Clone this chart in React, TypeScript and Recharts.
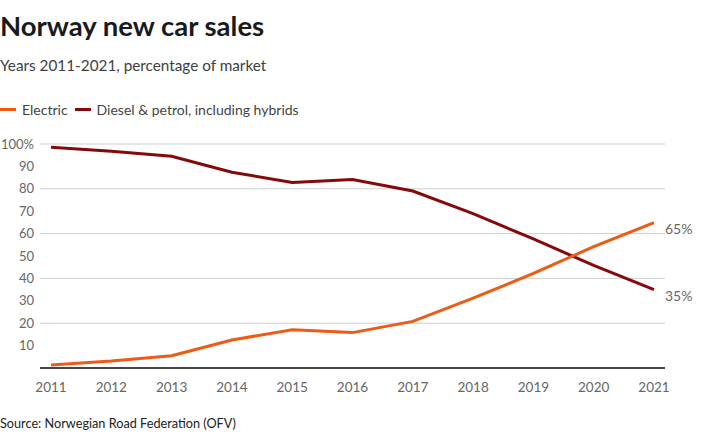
import { LineChart, Line, XAxis, YAxis, CartesianGrid, LabelList } from 'recharts'

// Norway new car sales, share of market (%)
const years = ['2011', '2012', '2013', '2014', '2015', '2016', '2017', '2018', '2019', '2020', '2021']
const electric = [1.3, 3.1, 5.5, 12.5, 17.1, 15.8, 20.8, 31.2, 42.2, 54.2, 64.9]
const dieselPetrol = [98.6, 96.8, 94.5, 87.4, 82.8, 84.1, 79.0, 68.9, 57.6, 45.8, 35.0]
const yTicks = [0, 10, 20, 30, 40, 50, 60, 70, 80, 90, 100]

const ELECTRIC = '#ef5a14'
const DIESEL = '#870808'
const FONT = "'Source Sans Pro', Lato, 'Open Sans', sans-serif"

const data = years.map((year, i) => ({
  year,
  electric: electric[i],
  diesel: dieselPetrol[i],
}))

const lastIndex = years.length - 1

// only the last point gets its value written next to it
const endLabel = (props: any) => {
  const { x, y, index, value } = props
  if (index !== lastIndex) return null
  return (
    <text x={x + 11} y={y + 11} fill="#666" fontSize={14} fontFamily={FONT}>
      {Math.round(value)}%
    </text>
  )
}

const LegendItem = ({ color, label }: { color: string; label: string }) => (
  <span style={{ display: 'inline-flex', alignItems: 'center', marginRight: 7 }}>
    <span style={{ width: 16, height: 3, background: color, marginRight: 6, display: 'inline-block' }} />
    <span>{label}</span>
  </span>
)

export default function App() {
  return (
    <div
      style={{
        position: 'absolute',
        left: 0,
        top: 0,
        width: 703,
        height: 436,
        background: '#fff',
        fontFamily: FONT,
        overflow: 'hidden',
      }}
    >
      <div style={{ position: 'absolute', left: 0, top: 9, fontSize: 27.5, fontWeight: 700, color: '#1a1a1a' }}>
        Norway new car sales
      </div>
      <div style={{ position: 'absolute', left: 0, top: 56, fontSize: 15.3, color: '#404040' }}>
        Years 2011-2021, percentage of market
      </div>
      <div style={{ position: 'absolute', left: 0, top: 101, fontSize: 14, color: '#444', display: 'flex' }}>
        <LegendItem color={ELECTRIC} label="Electric" />
        <LegendItem color={DIESEL} label="Diesel & petrol, including hybrids" />
      </div>

      <LineChart width={703} height={436} data={data} margin={{ top: 144, right: 38, bottom: 38, left: 0 }}>
        <CartesianGrid vertical={false} stroke="#d0d0d0" strokeWidth={1} />
        <XAxis
          dataKey="year"
          padding={{ left: 11, right: 11 }}
          axisLine={{ stroke: '#111', strokeWidth: 1.5 }}
          tickLine={false}
          tickMargin={8}
          height={30}
          tick={{ fill: '#666', fontSize: 13.5, fontFamily: FONT }}
        />
        <YAxis
          domain={[0, 100]}
          ticks={yTicks}
          width={40}
          axisLine={false}
          tickLine={false}
          tickSize={0}
          tickMargin={6}
          tick={{ fill: '#666', fontSize: 13, fontFamily: FONT }}
          tickFormatter={(v: number) => (v === 0 ? '' : v === 100 ? '100%' : String(v))}
        />
        <Line
          type="linear"
          dataKey="diesel"
          stroke={DIESEL}
          strokeWidth={3}
          dot={false}
          isAnimationActive={false}
        >
          <LabelList dataKey="diesel" content={endLabel} />
        </Line>
        <Line
          type="linear"
          dataKey="electric"
          stroke={ELECTRIC}
          strokeWidth={3}
          dot={false}
          isAnimationActive={false}
        >
          <LabelList dataKey="electric" content={endLabel} />
        </Line>
      </LineChart>

      <div style={{ position: 'absolute', left: 0, top: 415, fontSize: 12.7, color: '#222' }}>
        Source: Norwegian Road Federation (OFV)
      </div>
    </div>
  )
}
